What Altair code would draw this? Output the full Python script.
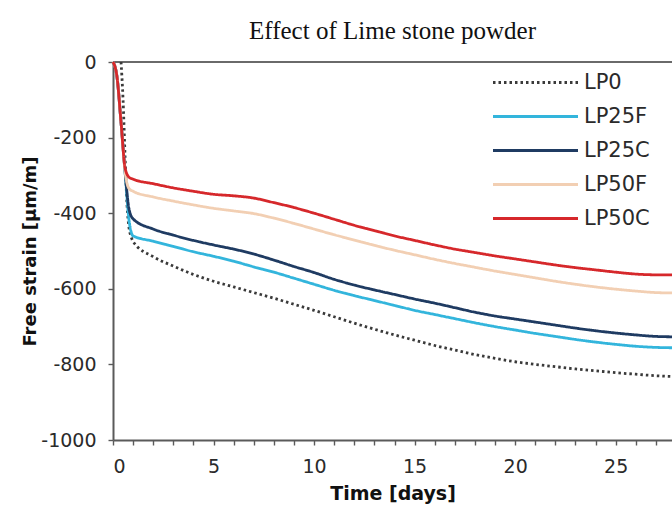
import altair as alt
import pandas as pd

# Mix designs, line colours and dash patterns
SERIES = ["LP0", "LP25F", "LP25C", "LP50F", "LP50C"]
COLORS = ["#3a3a3a", "#33b5dc", "#1f3b62", "#f2cfb3", "#d6282b"]
DASHES = [[2.5, 3], [1, 0], [1, 0], [1, 0], [1, 0]]

# Time axis of the measurements [days]
DAYS = [0, 0.2, 0.4, 0.6, 0.8,
        1, 2, 3, 4, 5, 6, 7, 8, 9, 10, 11, 12, 13, 14, 15, 16, 17, 18, 19, 20,
        21, 22, 23, 24, 25, 26, 27, 27.8]
DAYS_LP0 = [0.4, 0.5, 0.6, 0.7, 0.8, 0.9,
            1, 2, 3, 4, 5, 6, 7, 8, 9, 10, 11, 12, 13, 14, 15, 16, 17, 18, 19, 20,
            21, 22, 23, 24, 25, 26, 27, 27.8]

# Free strain [µm/m]
LP0 = [0, -100, -250, -380, -440, -462,
       -475, -515, -540, -562, -580, -595, -610, -625, -641, -657, -674, -691,
       -707, -722, -736, -750, -762, -774, -784, -793, -800, -806, -812, -817,
       -822, -826, -830, -832]
LP25F = [0, -40, -160, -290, -420,
         -460, -474, -488, -502, -514, -527, -542, -556, -572, -588, -604, -618,
         -631, -644, -657, -668, -679, -690, -700, -709, -718, -726, -734, -741,
         -747, -752, -755, -756]
LP25C = [0, -40, -160, -290, -390,
         -415, -442, -458, -472, -484, -495, -508, -524, -541, -557, -575, -590,
         -603, -615, -627, -638, -650, -662, -672, -680, -688, -696, -704, -711,
         -717, -722, -726, -727]
LP50F = [0, -40, -160, -290, -335,
         -342, -357, -368, -378, -387, -394, -401, -413, -427, -442, -457, -471,
         -485, -498, -510, -522, -533, -543, -553, -562, -571, -580, -588, -595,
         -601, -606, -610, -611]
LP50C = [0, -40, -160, -280, -305,
         -310, -322, -333, -342, -350, -354, -360, -372, -385, -400, -416, -432,
         -446, -460, -472, -484, -495, -504, -513, -521, -529, -537, -544, -550,
         -556, -561, -563, -563]

X_TICKS = [0, 1, 2, 3, 4, 5, 6, 7, 8, 9, 10, 11, 12, 13, 14, 15, 16, 17, 18,
           19, 20, 21, 22, 23, 24, 25, 26, 27]
Y_TICKS = [0, -50, -100, -150, -200, -250, -300, -350, -400, -450, -500, -550,
           -600, -650, -700, -750, -800, -850, -900, -950, -1000]

rows = []
for name, days, vals in [("LP0", DAYS_LP0, LP0), ("LP25F", DAYS, LP25F),
                         ("LP25C", DAYS, LP25C), ("LP50F", DAYS, LP50F),
                         ("LP50C", DAYS, LP50C)]:
    for d, v in zip(days, vals):
        rows.append({"series": name, "day": d, "strain": v, "rank": SERIES.index(name)})
df = pd.DataFrame(rows)

x_scale = alt.Scale(domain=[0, 27.8], nice=False, zero=False)
y_scale = alt.Scale(domain=[-1000, 0], nice=False)

lines = alt.Chart(df).mark_line(strokeWidth=2.8, interpolate="monotone", strokeCap="butt").encode(
    x=alt.X("day:Q", scale=x_scale, title="Time [days]",
            axis=alt.Axis(values=X_TICKS,
                          labelExpr="datum.value % 5 == 0 ? '' + datum.value : ''")),
    y=alt.Y("strain:Q", scale=y_scale, title="Free strain [µm/m]",
            axis=alt.Axis(values=Y_TICKS,
                          labelExpr="datum.value % 200 == 0 ? '' + datum.value : ''")),
    color=alt.Color("series:N", scale=alt.Scale(domain=SERIES, range=COLORS), title=None),
    strokeDash=alt.StrokeDash("series:N", scale=alt.Scale(domain=SERIES, range=DASHES), title=None),
    order=alt.Order("rank:Q"),
    detail="series:N",
)

# frame line along the top of the plot
top = alt.Chart(pd.DataFrame({"v": [0]})).mark_rule(color="#6a6a6a", strokeWidth=2).encode(
    y=alt.Y("v:Q", scale=y_scale)
)

chart = alt.layer(top, lines).properties(
    width=559,
    height=378,
    background="white",
    autosize=alt.AutoSizeParams(type="none"),
    padding={"left": 113, "top": 62, "right": 0, "bottom": 66},
    title=alt.Title("Effect of Lime stone powder", font="Liberation Serif", fontSize=25,
                    fontWeight="normal", color="#111", anchor="middle", frame="group",
                    baseline="alphabetic", offset=-11),
).configure_view(stroke=None).configure_axis(
    grid=False,
    domainColor="#5a5a5a",
    domainWidth=2,
    tickColor="#5a5a5a",
    tickWidth=1.4,
    tickSize=5,
    labelFont="DejaVu Sans",
    labelFontSize=19,
    labelColor="#2a2a2a",
    labelPadding=12,
    titleFont="DejaVu Sans",
    titleFontSize=19,
    titleFontWeight="bold",
    titleColor="#111",
).configure_axisX(titlePadding=8).configure_axisY(titlePadding=1, titleFontSize=18).configure_legend(
    orient="none",
    legendX=412,
    legendY=10,
    # long horizontal stroke as legend symbol
    symbolType="M-8.5,0H8.5",
    symbolSize=100,
    symbolStrokeWidth=2.8,
    labelFont="DejaVu Sans",
    labelFontSize=21,
    labelColor="#2a2a2a",
    labelOffset=38,
    rowPadding=12,
    padding=0,
)

chart.save("out.html", embed_options={"renderer": "svg", "actions": False})
